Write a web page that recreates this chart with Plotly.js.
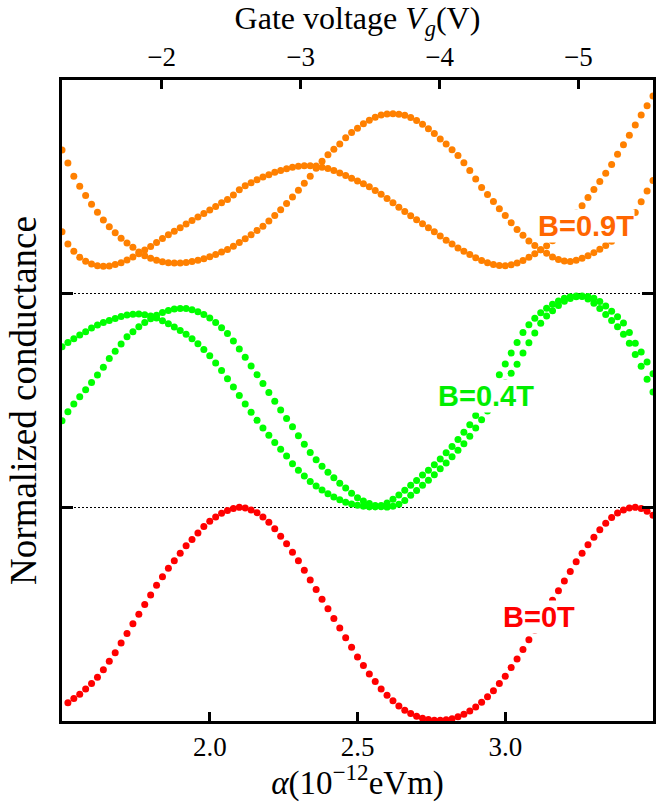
<!DOCTYPE html>
<html>
<head>
<meta charset="utf-8">
<script src="https://cdn.plot.ly/plotly-3.0.1.min.js"></script>
<style>
html,body{margin:0;padding:0;background:#fff;}
#chart{width:662px;height:802px;}
</style>
</head>
<body>
<div id="chart"></div>
<script>
// Rashba parameter alpha (10^-12 eVm)
const alpha = [1.50,
 1.52,1.54,1.56,1.58,1.60,1.62,1.64,1.66,1.68,1.70,
 1.72,1.74,1.76,1.78,1.80,1.82,1.84,1.86,1.88,1.90,
 1.92,1.94,1.96,1.98,2.00,2.02,2.04,2.06,2.08,2.10,
 2.12,2.14,2.16,2.18,2.20,2.22,2.24,2.26,2.28,2.30,
 2.32,2.34,2.36,2.38,2.40,2.42,2.44,2.46,2.48,2.50,
 2.52,2.54,2.56,2.58,2.60,2.62,2.64,2.66,2.68,2.70,
 2.72,2.74,2.76,2.78,2.80,2.82,2.84,2.86,2.88,2.90,
 2.92,2.94,2.96,2.98,3.00,3.02,3.04,3.06,3.08,3.10,
 3.12,3.14,3.16,3.18,3.20,3.22,3.24,3.26,3.28,3.30,
 3.32,3.34,3.36,3.38,3.40,3.42,3.44,3.46,3.48,3.50];

// B = 0 T (normalized conductance within its panel)
const g0T = [null,
 .085,.105,.125,.15,.175,.205,.24,.28,.32,.365,
 .41,.455,.50,.545,.59,.635,.675,.715,.75,.785,
 .82,.85,.88,.91,.935,.955,.972,.985,.995,1.0,
 .997,.988,.975,.955,.93,.90,.865,.83,.79,.75,
 .705,.66,.615,.57,.525,.48,.435,.39,.345,.30,
 .26,.22,.185,.15,.12,.095,.07,.05,.035,.022,
 .013,.007,.004,.004,.006,.011,.02,.032,.047,.066,
 .088,.113,.142,.175,.21,.25,.29,.335,.38,.425,
 .47,.52,.565,.61,.655,.70,.745,.785,.825,.86,
 .895,.925,.952,.973,.988,.997,1.0,.995,.982,.963];

// B = 0.4 T, two curves
const g04a = [.752,
 .771,.789,.806,.822,.839,.853,.865,.875,.884,.893,
 .90,.904,.905,.901,.895,.886,.873,.859,.844,.828,
 .81,.789,.766,.739,.709,.676,.64,.602,.563,.523,
 .484,.445,.407,.371,.337,.304,.272,.24,.204,.174,
 .147,.121,.10,.081,.064,.048,.035,.024,.016,.01,
 .005,.002,.002,.008,.02,.038,.058,.08,.103,.126,
 .151,.174,.199,.226,.255,.285,.317,.351,.387,.43,
 .475,.523,.572,.62,.671,.722,.772,.818,.855,.885,
 .911,.932,.951,.966,.978,.985,.989,.987,.975,.955,
 .93,.903,.875,.845,.81,.768,.715,.66,.60,.54];
const g04b = [.405,
 .447,.484,.517,.55,.584,.619,.656,.697,.73,.765,
 .798,.822,.845,.865,.883,.899,.912,.921,.928,.931,
 .93,.925,.915,.902,.886,.865,.84,.813,.779,.741,
 .703,.662,.621,.58,.538,.496,.456,.416,.377,.335,
 .295,.257,.223,.192,.164,.138,.113,.09,.066,.045,
 .03,.018,.009,.003,.001,.005,.015,.032,.056,.079,
 .103,.127,.153,.18,.208,.237,.267,.298,.333,.371,
 .41,.451,.494,.538,.583,.627,.67,.722,.77,.816,
 .861,.895,.92,.945,.964,.977,.985,.989,.987,.978,
 .963,.942,.918,.892,.863,.818,.768,.727,.68,.625];

// B = 0.9 T, two curves
const g09a = [.672,
 .611,.55,.503,.46,.419,.381,.345,.313,.285,.259,
 .237,.217,.195,.178,.166,.156,.149,.145,.143,.143,
 .146,.150,.156,.164,.173,.183,.195,.207,.222,.240,
 .257,.276,.296,.316,.34,.366,.393,.422,.452,.484,
 .517,.55,.587,.62,.65,.676,.70,.73,.754,.774,
 .795,.812,.826,.836,.841,.842,.84,.835,.825,.811,
 .793,.772,.75,.724,.70,.674,.647,.613,.577,.537,
 .497,.464,.431,.398,.366,.332,.30,.273,.247,.226,
 .206,.189,.172,.16,.153,.151,.156,.166,.178,.192,
 .208,.226,.245,.265,.295,.33,.38,.43,.48,.53];
const g09b = [.29,
 .232,.199,.17,.152,.139,.131,.128,.129,.136,.145,
 .157,.172,.187,.204,.221,.240,.258,.276,.292,.309,
 .326,.342,.359,.375,.392,.408,.425,.441,.462,.486,
 .505,.519,.533,.546,.557,.568,.577,.585,.592,.596,
 .599,.599,.597,.592,.586,.576,.565,.553,.54,.527,
 .515,.50,.483,.465,.445,.425,.405,.385,.365,.346,
 .327,.308,.29,.27,.25,.232,.214,.198,.183,.168,
 .155,.145,.137,.132,.131,.135,.143,.155,.17,.187,
 .206,.224,.248,.277,.31,.345,.378,.412,.45,.487,
 .525,.563,.605,.652,.697,.741,.789,.836,.88,.925];

// panel offsets (stacked panels)
const offset0T = 0, offset04 = 1, offset09 = 2;

const bottomTicks = [2.0, 2.5, 3.0];
const bottomTickText = ['2.0', '2.5', '3.0'];
const gateTicks = [-2, -3, -4, -5];
const gateTickText = ['\u22122', '\u22123', '\u22124', '\u22125'];
const labels = ['B=0.9T', 'B=0.4T', 'B=0T'];

const ORANGE = '#ff8000', GREEN = '#00ff00', RED = '#ff0000';
const mk = (c) => ({size: 7, color: c, line: {width: 0}});
const shift = (arr, o) => arr.map(v => v === null ? null : v + o);

const traces = [
  {x: alpha, y: shift(g09a, offset09), mode: 'markers', marker: mk(ORANGE), hoverinfo: 'skip'},
  {x: alpha, y: shift(g09b, offset09), mode: 'markers', marker: mk(ORANGE), hoverinfo: 'skip'},
  {x: alpha, y: shift(g04a, offset04), mode: 'markers', marker: mk(GREEN), hoverinfo: 'skip'},
  {x: alpha, y: shift(g04b, offset04), mode: 'markers', marker: mk(GREEN), hoverinfo: 'skip'},
  {x: alpha, y: shift(g0T, offset0T), mode: 'markers', marker: mk(RED), hoverinfo: 'skip'},
  {x: gateTicks, y: gateTicks.map(() => null), xaxis: 'x2', mode: 'markers', hoverinfo: 'skip', showlegend: false}
];

const serif = 'Liberation Serif';
const tickFont = {family: serif, size: 27, color: '#000'};
const labFont = (c) => ({family: 'Liberation Sans', size: 29, color: c});

const layout = {
  width: 662, height: 802,
  margin: {l: 62, r: 9, t: 80, b: 81},
  paper_bgcolor: '#fff', plot_bgcolor: '#fff',
  showlegend: false,
  xaxis: {
    range: [1.5, 3.5], tickvals: bottomTicks, ticktext: bottomTickText,
    ticks: 'inside', ticklen: 9, tickwidth: 3, tickcolor: '#000',
    showline: true, linewidth: 3, linecolor: '#000', mirror: false,
    showgrid: false, zeroline: false, tickfont: tickFont,
    title: {text: '<i>α</i>(10<sup>−12</sup>eVm)', font: {family: serif, size: 33, color: '#000'}, standoff: 4}
  },
  xaxis2: {
    overlaying: 'x', side: 'top', anchor: 'y',
    range: [-1.282, -5.537], tickvals: gateTicks, ticktext: gateTickText,
    ticks: 'inside', ticklen: 9, tickwidth: 3, tickcolor: '#000',
    showline: true, linewidth: 3, linecolor: '#000',
    showgrid: false, zeroline: false, tickfont: tickFont,
    title: {text: 'Gate voltage <i>V</i><sub><i>g</i></sub>(V)', font: {family: serif, size: 32, color: '#000'}, standoff: 4}
  },
  yaxis: {
    range: [0, 3], tickvals: [1, 2], showticklabels: false,
    ticks: 'inside', ticklen: 11, tickwidth: 3, tickcolor: '#000',
    showline: true, linewidth: 3, linecolor: '#000', mirror: 'ticks',
    showgrid: true, gridcolor: '#000', gridwidth: 1, griddash: '2px,2px',
    zeroline: false,
    title: {text: 'Normalized conductance', font: {family: serif, size: 37, color: '#000'}, standoff: 12}
  },
  annotations: [
    {x: 3.2745, y: 2.317, xref: 'x', yref: 'y', text: '<b>' + labels[0] + '</b>', showarrow: false,
     font: labFont('#ff6600'), bgcolor: '#fff', borderpad: 0},
    {x: 2.936, y: 1.5225, xref: 'x', yref: 'y', text: '<b>' + labels[1] + '</b>', showarrow: false,
     font: labFont('#00ee00'), bgcolor: '#fff', borderpad: 0},
    {x: 3.113, y: 0.488, xref: 'x', yref: 'y', text: '<b>' + labels[2] + '</b>', showarrow: false,
     font: labFont('#ff0000'), bgcolor: '#fff', borderpad: 0}
  ]
};

Plotly.newPlot('chart', traces, layout, {staticPlot: true, displayModeBar: false});
</script>
</body>
</html>
